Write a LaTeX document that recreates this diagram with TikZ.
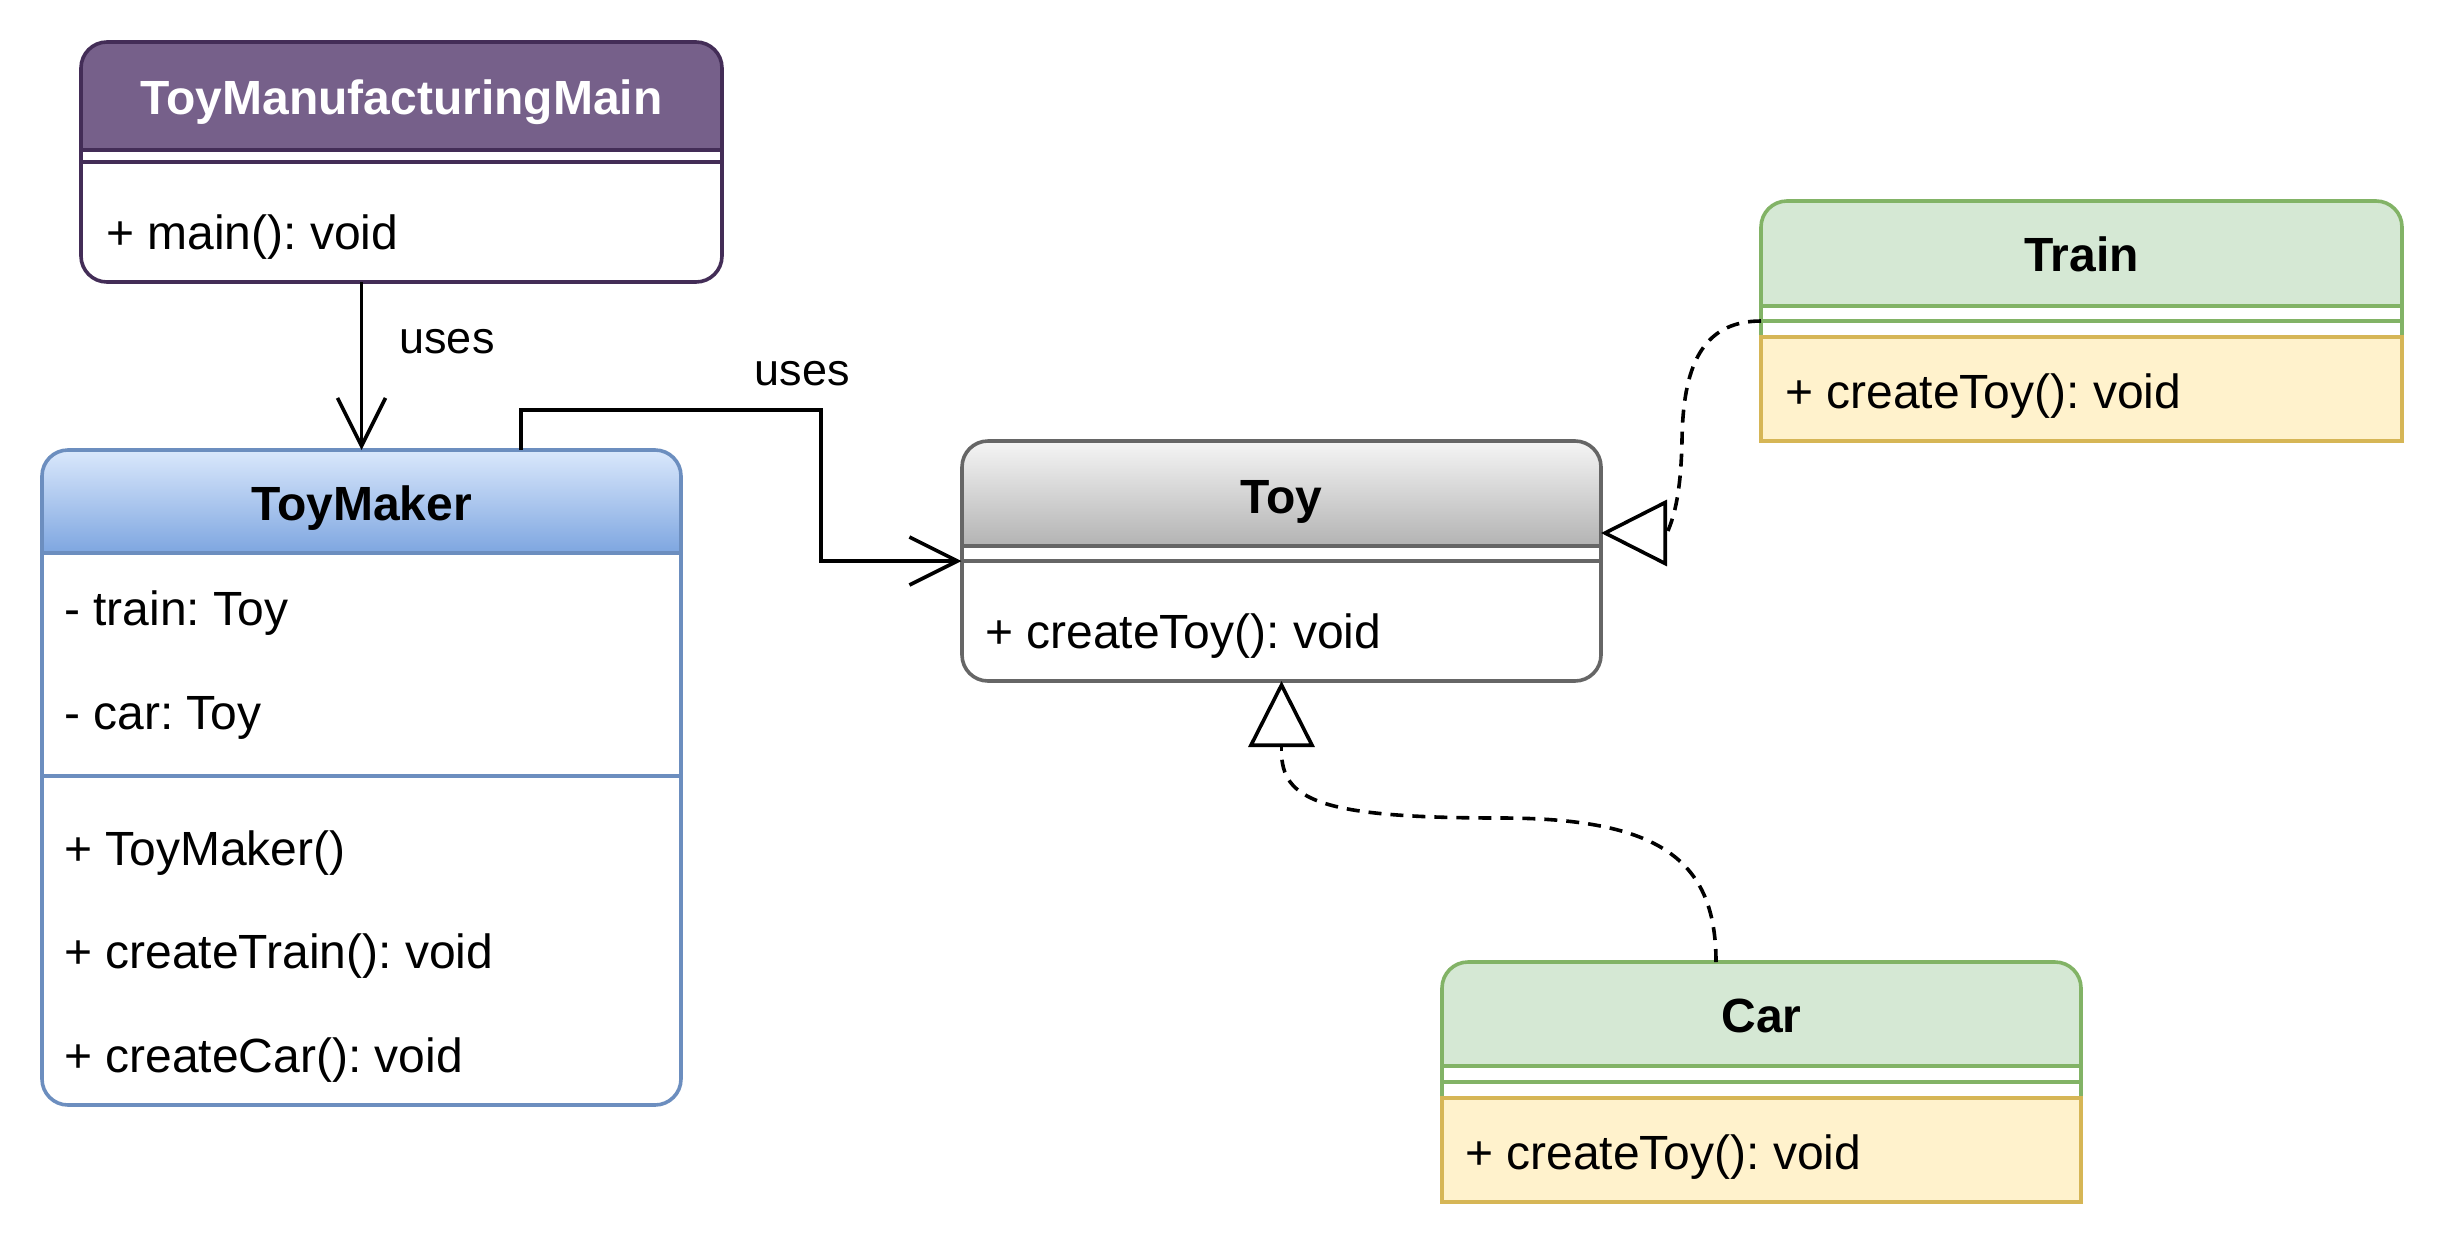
\documentclass[tikz,border=0pt]{standalone}
\usepackage{fontspec}
\setmainfont{Liberation Sans}
\usetikzlibrary{arrows.meta,calc}
\frenchspacing
\definecolor{purpF}{HTML}{76608A}
\definecolor{purpS}{HTML}{432D57}
\definecolor{blueS}{HTML}{6C8EBF}
\definecolor{blueT}{HTML}{DAE8FC}
\definecolor{blueB}{HTML}{7EA6E0}
\definecolor{grayS}{HTML}{666666}
\definecolor{grayT}{HTML}{F5F5F5}
\definecolor{grayB}{HTML}{B3B3B3}
\definecolor{greenF}{HTML}{D5E8D4}
\definecolor{greenS}{HTML}{82B366}
\definecolor{yelF}{HTML}{FFF2CC}
\definecolor{yelS}{HTML}{D6B656}
\begin{document}
\begin{tikzpicture}[x=1pt,y=-1pt,
  txt/.style={font=\frenchspacing\fontsize{48}{57}\selectfont, inner sep=0pt, anchor=base west},
  ttl/.style={font=\bfseries\fontsize{48}{57}\selectfont, inner sep=0pt, anchor=base},
  lbl/.style={font=\fontsize{45}{54}\selectfont, inner sep=0pt, anchor=base},
  box/.style={minimum width=640pt, inner sep=0pt, outer sep=0pt, draw=none},
  lw/.style={line width=3.6pt},
  conn/.style={line width=3.6pt, black, line join=miter},
  real/.style={line width=3.6pt, black, dash pattern=on 13pt off 9pt},
  opentip/.style={-{Straight Barb[length=48pt,width=48pt]}},
  realtip/.style={-{Triangle[open,length=66pt,width=66pt]}}]
\useasboundingbox (0,0) rectangle (2444,1256);
\fill[white] (0,0) rectangle (2444,1256);

% ---------- ToyManufacturingMain ----------
\node[box,minimum height=240pt] (tmm) at (401.5,162) {};
\begin{scope}
\clip[rounded corners=26pt] (81,42) rectangle (722,282);
\fill[white] (81,42) rectangle (722,282);
\fill[purpF] (81,42) rectangle (722,150);
\end{scope}
\draw[purpS,lw] (81,150) -- (722,150) (81,162) -- (722,162);
\draw[purpS,lw,rounded corners=26pt] (81,42) rectangle (722,282);
\node[ttl,white] (tmmT) at (401.5,114) {ToyManufacturingMain};
\node[txt] (tmm1) at (106,249) {+ main(): void};

% ---------- ToyMaker ----------
\node[box,minimum height=655pt] (tm) at (361.5,777.5) {};
\begin{scope}
\clip[rounded corners=26pt] (42,450) rectangle (681,1105);
\fill[white] (42,450) rectangle (681,1105);
\shade[top color=blueT,bottom color=blueB] (42,450) rectangle (681,553);
\end{scope}
\draw[blueS,lw] (42,553) -- (681,553) (42,776) -- (681,776);
\draw[blueS,lw,rounded corners=26pt] (42,450) rectangle (681,1105);
\node[ttl] (tmT) at (361.5,520) {ToyMaker};
\node[txt] (tm1) at (64,625) {- train: Toy};
\node[txt] (tm2) at (64,729) {- car: Toy};
\node[txt] (tm3) at (64,865) {+ ToyMaker()};
\node[txt] (tm4) at (64,968) {+ createTrain(): void};
\node[txt] (tm5) at (64,1072) {+ createCar(): void};

% ---------- Toy ----------
\node[box,minimum height=240pt] (toy) at (1281.5,561) {};
\begin{scope}
\clip[rounded corners=26pt] (962,441) rectangle (1601,681);
\fill[white] (962,441) rectangle (1601,681);
\shade[top color=grayT,bottom color=grayB] (962,441) rectangle (1601,546);
\end{scope}
\draw[grayS,lw] (962,546) -- (1601,546) (962,561) -- (1601,561);
\draw[grayS,lw,rounded corners=26pt] (962,441) rectangle (1601,681);
\node[ttl] (toyT) at (1281.5,513) {Toy};
\node[txt] (toy1) at (985,648) {+ createToy(): void};

% ---------- Train ----------
\node[box,minimum height=240pt] (train) at (2081.5,321) {};
\begin{scope}
\clip[rounded corners=26pt] (1761,201) rectangle (2402,441);
\fill[white] (1761,201) rectangle (2402,441);
\fill[greenF] (1761,201) rectangle (2402,306);
\end{scope}
\draw[greenS,lw] (1761,306) -- (2402,306) (1761,321) -- (2402,321);
\draw[greenS,lw,rounded corners=26pt] (1761,201) rectangle (2402,441);
\draw[yelS,lw,fill=yelF] (1761,337) rectangle (2402,441);
\node[ttl] (trainT) at (2081.5,271) {Train};
\node[txt] (train1) at (1785,408) {+ createToy(): void};

% ---------- Car ----------
\node[box,minimum height=240pt] (car) at (1761.5,1082) {};
\begin{scope}
\clip[rounded corners=26pt] (1442,962) rectangle (2081,1202);
\fill[white] (1442,962) rectangle (2081,1202);
\fill[greenF] (1442,962) rectangle (2081,1066);
\end{scope}
\draw[greenS,lw] (1442,1066) -- (2081,1066) (1442,1082) -- (2081,1082);
\draw[greenS,lw,rounded corners=26pt] (1442,962) rectangle (2081,1202);
\draw[yelS,lw,fill=yelF] (1442,1098) rectangle (2081,1202);
\node[ttl] (carT) at (1761.5,1032) {Car};
\node[txt] (car1) at (1465,1169) {+ createToy(): void};

% ---------- connectors ----------
% uses: main -> ToyMaker
\draw[conn,opentip] (tmm.south -| tm.north) -- (tm.north);
\node[lbl] (uses1) at (447,353) {uses};

% uses: ToyMaker -> Toy
\coordinate (tmA) at (521,450);
\draw[conn,opentip] (tmA) -- ++(0,-40) -| (821,561) -- (toy.west);
\node[lbl] (uses2) at (802,385) {uses};

% Train realizes Toy
\coordinate (trA) at (1761,321);
\coordinate (trB) at (1667,533);
\coordinate (toyR) at (1601,533);
\draw[real] (trA) .. controls (1700,321) and (1683,370) .. (1682,440)
                  .. controls (1681,490) and (1675,515) .. (trB);
\draw[conn,realtip] (trB) -- (toyR);

% Car realizes Toy
\coordinate (caA) at (1716,962);
\coordinate (caB) at (1281.5,751);
\draw[real] (caA) .. controls (1716,860) and (1660,818) .. (1500,818)
                  .. controls (1320,818) and (1281.5,800) .. (caB);
\draw[conn,realtip] (caB) -- (toy.south);
\end{tikzpicture}
\end{document}
